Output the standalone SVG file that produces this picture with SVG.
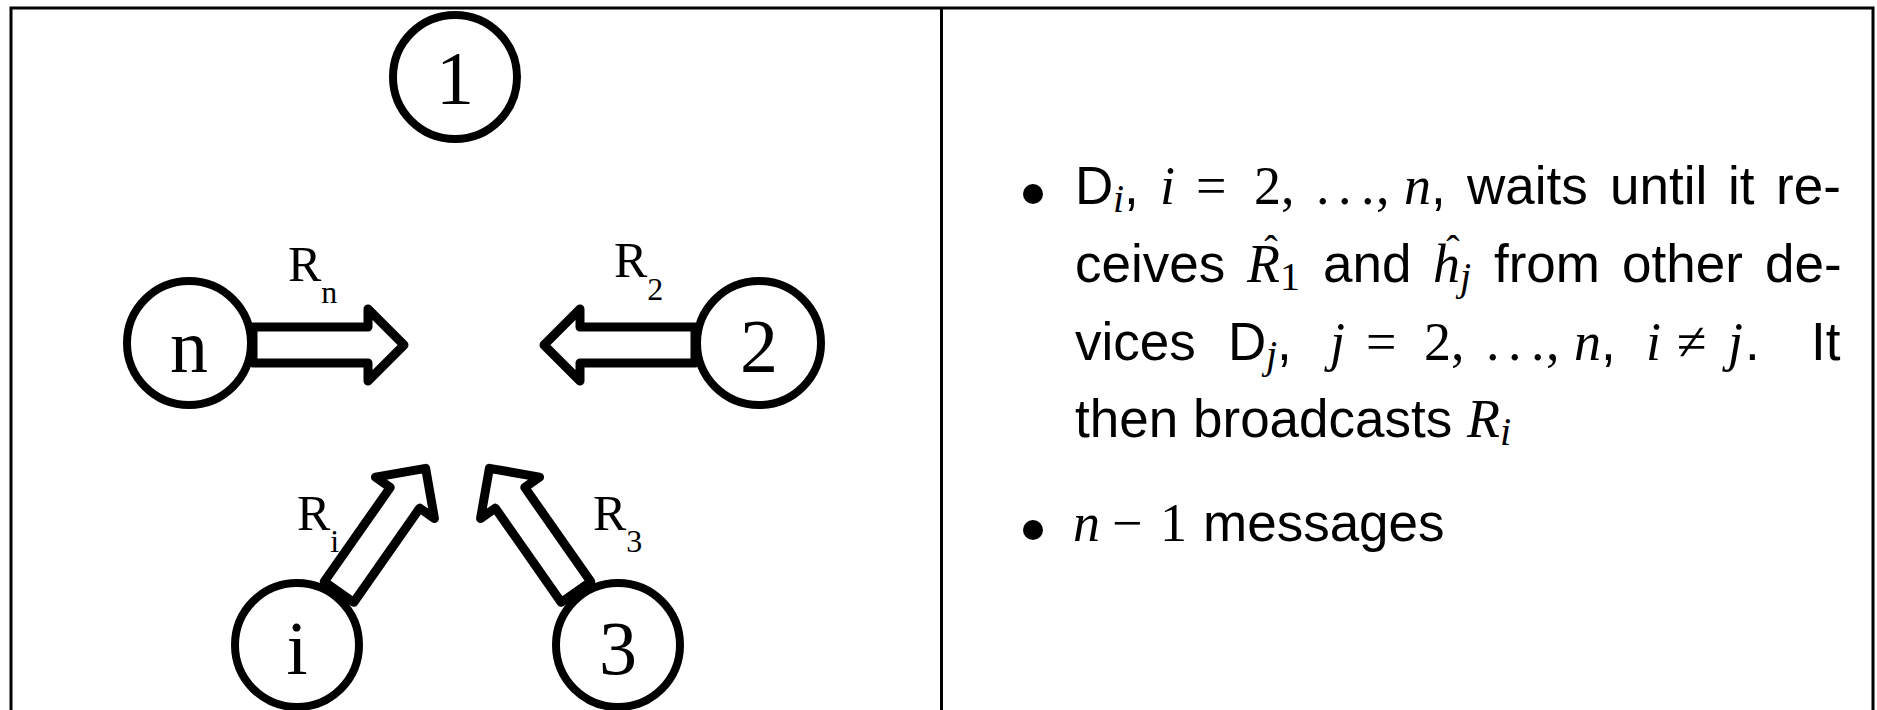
<svg xmlns="http://www.w3.org/2000/svg" width="1877" height="710" viewBox="0 0 1877 710">
<style>
.frame{fill:none;stroke:#000;stroke-width:3}
.node circle{fill:#fff;stroke:#000;stroke-width:8}
.node text{font-family:"Liberation Serif","Times New Roman",serif;font-size:76px;text-anchor:middle;fill:#000}
.arrow{fill:#fff;stroke:#000;stroke-width:9;stroke-linejoin:round}
.lbl{font-family:"Liberation Serif","Times New Roman",serif;font-size:50px;fill:#000}
.lsub{font-size:32px}
.t{font-family:"Liberation Sans",Arial,sans-serif;font-size:53px;fill:#000}
.m{font-family:"Liberation Serif","Times New Roman",serif;font-size:54px;fill:#000}
.ms{font-family:"Liberation Serif","Times New Roman",serif;font-size:40px;fill:#000}
.hat{font-family:"Liberation Serif","Times New Roman",serif;font-size:40px;text-anchor:middle;fill:#000}
.mi{font-style:italic}
.bullet{fill:#000}
</style>
<defs>
<path id="arr" d="M0,-18 H115 V-36 L151,0 L115,36 V18 H0 Z"/>
</defs>
<g id="frame">
<rect class="frame" x="11" y="8" width="1862" height="730"/>
<line class="frame" x1="941.5" y1="8" x2="941.5" y2="710"/>
</g>
<g id="connectors">
<use href="#arr" class="arrow" transform="translate(253,345)"/>
<use href="#arr" class="arrow" transform="translate(695,345) rotate(180)"/>
<use href="#arr" class="arrow" transform="translate(339,592) rotate(-55)"/>
<use href="#arr" class="arrow" transform="translate(576,592) rotate(-125)"/>
<text class="lbl" x="288" y="281">R<tspan class="lsub" dy="22">n</tspan></text>
<text class="lbl" x="614" y="277">R<tspan class="lsub" dy="23">2</tspan></text>
<text class="lbl" x="297" y="530">R<tspan class="lsub" dy="22">i</tspan></text>
<text class="lbl" x="593" y="530">R<tspan class="lsub" dy="22">3</tspan></text>
</g>
<g id="node-1" class="node"><circle cx="455" cy="77" r="62"/><text x="455" y="104">1</text></g>
<g id="node-n" class="node"><circle cx="189" cy="343" r="62"/><text x="189" y="372">n</text></g>
<g id="node-2" class="node"><circle cx="759" cy="343" r="62"/><text x="759" y="372">2</text></g>
<g id="node-i" class="node"><circle cx="297" cy="645" r="62"/><text x="297" y="674">i</text></g>
<g id="node-3" class="node"><circle cx="618" cy="645" r="62"/><text x="618" y="674">3</text></g>
<g id="text-panel">
<circle class="bullet" cx="1033" cy="194" r="10"/>
<text class="t" x="1075" y="204">D</text>
<text class="ms mi" x="1113" y="212">i</text>
<text class="t" x="1124" y="204">,</text>
<text class="m mi" x="1160" y="204">i</text>
<text class="m" x="1196" y="204">=</text>
<text class="m" x="1254" y="204">2</text>
<text class="m" x="1281" y="204">,</text>
<text class="m" x="1316" y="204">.</text>
<text class="m" x="1338" y="204">.</text>
<text class="m" x="1361" y="204">.</text>
<text class="m" x="1376" y="204">,</text>
<text class="m mi" x="1404" y="204">n</text>
<text class="t" x="1431" y="204">,</text>
<text class="t" x="1467" y="204">waits</text>
<text class="t" x="1610" y="204">until</text>
<text class="t" x="1728" y="204">it</text>
<text class="t" x="1776" y="204">re-</text>

<text class="t" x="1075" y="282">ceives</text>
<text class="hat" x="1271" y="263">ˆ</text>
<text class="m mi" x="1247" y="282">R</text>
<text class="ms" x="1280" y="290">1</text>
<text class="t" x="1323" y="282">and</text>
<text class="hat" x="1453" y="263">ˆ</text>
<text class="m mi" x="1433" y="282">h</text>
<text class="ms mi" x="1460" y="290">j</text>
<text class="t" x="1494" y="282">from</text>
<text class="t" x="1622" y="282">other</text>
<text class="t" x="1765" y="282">de-</text>

<text class="t" x="1075" y="360">vices</text>
<text class="t" x="1228" y="360">D</text>
<text class="ms mi" x="1266" y="368">j</text>
<text class="t" x="1277" y="360">,</text>
<text class="m mi" x="1330" y="360">j</text>
<text class="m" x="1366" y="360">=</text>
<text class="m" x="1424" y="360">2</text>
<text class="m" x="1451" y="360">,</text>
<text class="m" x="1486" y="360">.</text>
<text class="m" x="1508" y="360">.</text>
<text class="m" x="1531" y="360">.</text>
<text class="m" x="1546" y="360">,</text>
<text class="m mi" x="1574" y="360">n</text>
<text class="t" x="1601" y="360">,</text>
<text class="m mi" x="1646" y="360">i</text>
<text class="m" x="1677" y="360">≠</text>
<text class="m mi" x="1728" y="360">j</text>
<text class="t" x="1745" y="360">.</text>
<text class="t" x="1811" y="360">It</text>

<text class="t" x="1075" y="437">then</text>
<text class="t" x="1193" y="437">broadcasts</text>
<text class="m mi" x="1467" y="437">R</text>
<text class="ms mi" x="1500" y="445">i</text>

<circle class="bullet" cx="1033" cy="530" r="10"/>
<text class="m mi" x="1073" y="541">n</text>
<text class="m" x="1112" y="541">−</text>
<text class="m" x="1160" y="541">1</text>
<text class="t" x="1203" y="541">messages</text>
</g>
</svg>
